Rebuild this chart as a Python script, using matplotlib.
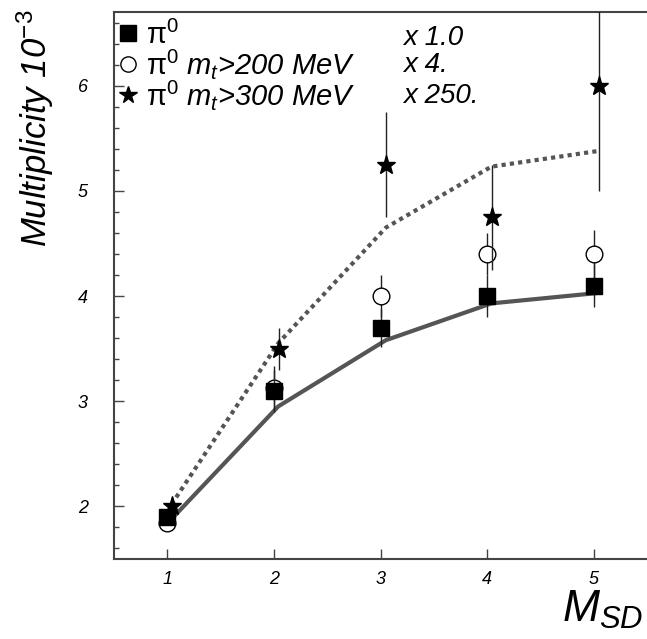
import matplotlib
matplotlib.use("Agg")
from matplotlib import pyplot as plt
from matplotlib.lines import Line2D
from matplotlib.ticker import MultipleLocator

plt.rcParams['font.family'] = ['Liberation Sans', 'DejaVu Sans']
plt.rcParams['mathtext.fontset'] = 'custom'
plt.rcParams['mathtext.rm'] = 'Liberation Sans'
plt.rcParams['mathtext.it'] = 'Liberation Sans:italic'
plt.rcParams['mathtext.bf'] = 'Liberation Sans:bold'

# data
msd = [1, 2, 3, 4, 5]
pi0 = [1.9, 3.1, 3.7, 4.0, 4.1]
pi0_err = [0.08, 0.2, 0.18, 0.2, 0.2]
pi0_mt200 = [1.84, 3.13, 4.0, 4.4, 4.4]
pi0_mt200_err = [0.05, 0.2, 0.2, 0.2, 0.23]
msd_star = [1.04, 2.05, 3.05, 4.05, 5.05]
pi0_mt300 = [2.0, 3.5, 5.25, 4.75, 6.0]
pi0_mt300_err = [0.08, 0.2, 0.5, 0.5, 1.0]

msd_model = [1.04, 2.04, 3.05, 4.04, 5.05]
model_all = [1.88, 2.95, 3.58, 3.93, 4.03]
model_mt = [2.02, 3.55, 4.65, 5.23, 5.38]

labels = [r'$\mathrm{\pi}^{\mathit{0}}$',
          r'$\mathrm{\pi}^{\mathit{0}}$ $m_{t}$>200 MeV',
          r'$\mathrm{\pi}^{\mathit{0}}$ $m_{t}$>300 MeV']
scales = ['x 1.0', 'x 4.', 'x 250.']

fig = plt.figure(figsize=(6.47, 6.39), dpi=100)
ax = fig.add_axes([114 / 647, 1 - 559 / 639, 533 / 647, 547 / 639])

grey = '#555555'
ax.plot(msd_model, model_all, '-', color=grey, lw=3, zorder=2)
ax.plot(msd_model, model_mt, color=grey, lw=3, linestyle=(0, (1, 1)),
        dash_capstyle='butt', zorder=2)

ax.errorbar(msd, pi0_mt200, yerr=pi0_mt200_err, fmt='o', ms=12, mfc='white',
            mec='black', mew=1.0, ecolor='#222222', elinewidth=1.0, capsize=0, zorder=3)
ax.errorbar(msd, pi0, yerr=pi0_err, fmt='s', ms=12, mfc='black', mec='black',
            ecolor='#222222', elinewidth=1.0, capsize=0, zorder=4)
ax.errorbar(msd_star, pi0_mt300, yerr=pi0_mt300_err, fmt='*', ms=14, mfc='black',
            mec='black', ecolor='#222222', elinewidth=1.0, capsize=0, zorder=4)

ax.set_xlim(0.5, 5.5)
ax.set_ylim(1.5, 6.7)
ax.xaxis.set_major_locator(MultipleLocator(1))
ax.yaxis.set_major_locator(MultipleLocator(1))
ax.yaxis.set_minor_locator(MultipleLocator(0.2))

for side in ['left', 'bottom', 'top']:
    ax.spines[side].set_color('#444444')
    ax.spines[side].set_linewidth(1.5)
ax.spines['right'].set_visible(False)

ax.tick_params(axis='y', which='major', direction='in', length=7, width=1.0,
               color='#444444', pad=19, labelsize=13)
ax.tick_params(axis='y', which='minor', direction='in', length=3.5, width=1.0,
               color='#444444')
ax.tick_params(axis='x', which='major', direction='in', length=7, width=1.0,
               color='#444444', pad=9, labelsize=13)
for lab in ax.get_xticklabels() + ax.get_yticklabels():
    lab.set_fontstyle('italic')

# legend
handles = [Line2D([], [], marker='s', ms=12, color='black', ls='none'),
           Line2D([], [], marker='o', ms=11, mfc='white', mec='black', ls='none'),
           Line2D([], [], marker='*', ms=13, color='black', ls='none')]
leg = ax.legend(handles, labels, loc='upper left', bbox_to_anchor=(-0.012, 1.006),
                frameon=False, handlelength=0.6, handletextpad=0.3,
                labelspacing=-0.1, borderaxespad=0.0,
                prop={'size': 21, 'style': 'italic'})

row_y = [0.9397, 0.8903, 0.8336]
for s, yy in zip(scales, row_y):
    ax.text(0.542, yy, s, transform=ax.transAxes, fontsize=20, style='italic',
            ha='left', va='baseline')

fig.text(35 / 647, 1 - 128 / 639, r'Multiplicity 10$^{\mathit{-3}}$', rotation=90,
         ha='center', va='center', fontsize=25, style='italic')
fig.text(562 / 647, 1 - 622 / 639, r'$M_{SD}$', ha='left', va='baseline', fontsize=32)

fig.savefig('out.png', dpi=100)
